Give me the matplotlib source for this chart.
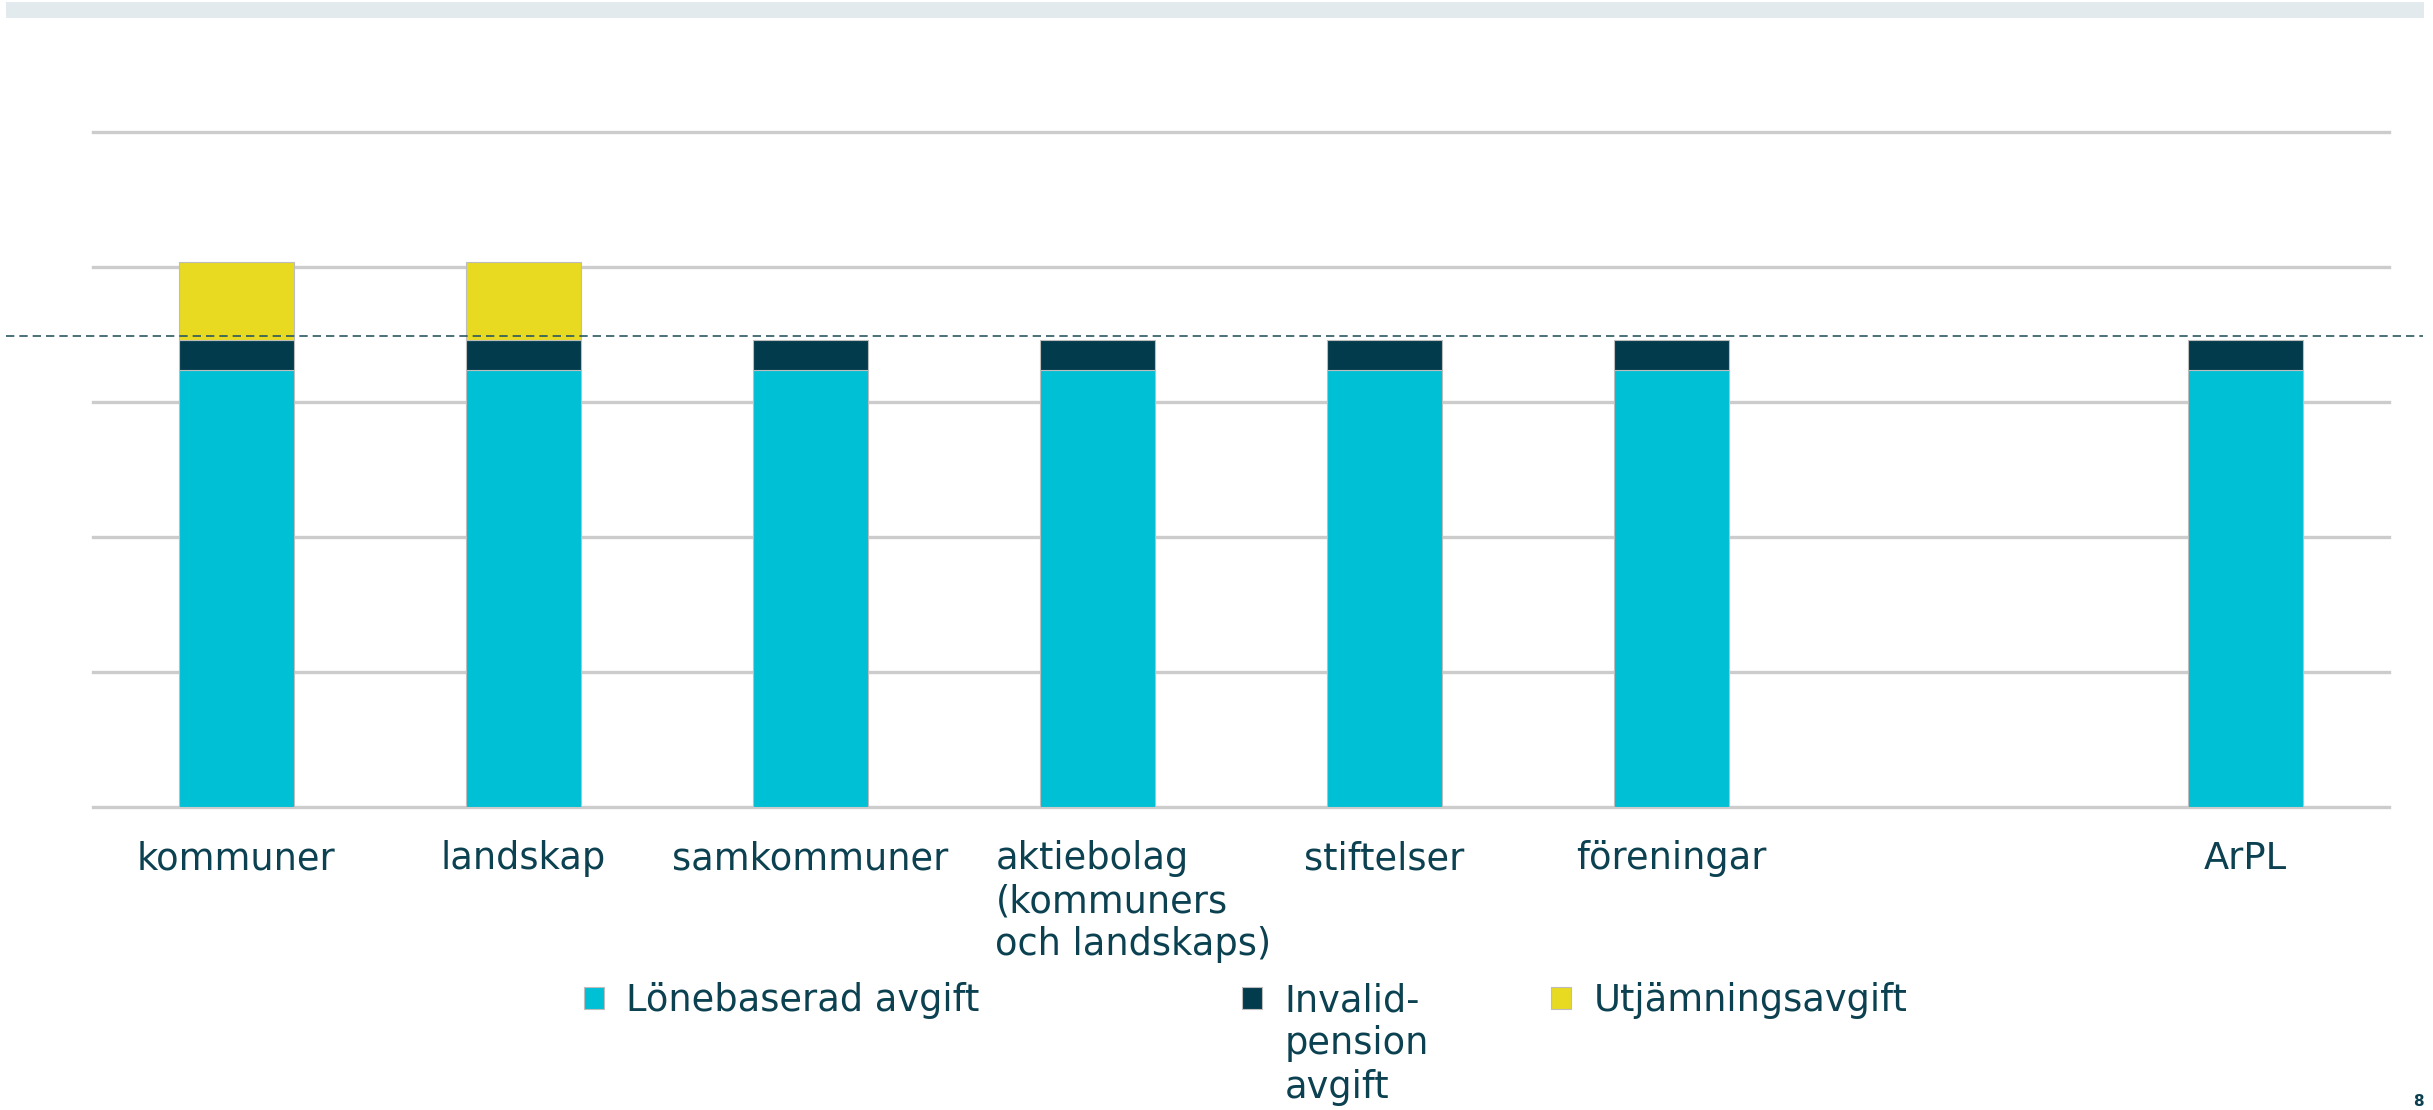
import numpy as np
import matplotlib
matplotlib.use("Agg")
import matplotlib.pyplot as plt
from matplotlib.patches import Rectangle
from matplotlib.transforms import ScaledTranslation

# data (percent of payroll)
categories = ["kommuner", "landskap", "samkommuner",
              "aktiebolag\n(kommuners\noch landskaps)",
              "stiftelser", "föreningar", "", "ArPL"]
lonebaserad = [16.2, 16.2, 16.2, 16.2, 16.2, 16.2, 0, 16.2]
invalid = [1.1, 1.1, 1.1, 1.1, 1.1, 1.1, 0, 1.1]
utjamning = [2.9, 2.9, 0, 0, 0, 0, 0, 0]
arpl_level = 17.45
series_names = ["Lönebaserad avgift", "Invalid-\npension\navgift", "Utjämningsavgift"]
series_colors = ["#00c0d6", "#023b4b", "#e8d921"]

text_col = "#0b4150"
plt.rcParams["font.family"] = ["DejaVu Sans"]

W, H = 2433, 1110
fig = plt.figure(figsize=(W / 100, H / 100), dpi=100)
ax = fig.add_axes([93 / W, (H - 807) / H, (2389 - 93) / W, (807 - 132) / H])

# top strip
fig.patches.append(Rectangle((6 / W, (H - 18) / H), (2424 - 6) / W, 16 / H,
                             transform=fig.transFigure, color="#e3eaed", lw=0))

x = np.arange(len(categories))
bottom = np.zeros(len(categories))
handles = []
for vals, col in zip([lonebaserad, invalid, utjamning], series_colors):
    vals = np.array(vals, dtype=float)
    m = vals > 0
    b = ax.bar(x[m], vals[m], bottom=bottom[m], width=0.4, color=col,
               edgecolor="#bdbdbd", linewidth=0.8, zorder=3)
    handles.append(b)
    bottom += vals

ax.set_xlim(-0.5, 7.5)
ax.set_ylim(0, 25)
ax.set_yticks(np.arange(0, 26, 5))
ax.yaxis.grid(True, color="#cccccc", linewidth=2.4, zorder=0)
for gl in ax.get_ygridlines():
    gl.set_clip_on(False)
ax.set_axisbelow(True)
ax.tick_params(axis="y", left=False, labelleft=False)
for s in ax.spines.values():
    s.set_visible(False)

ax.set_xticks(x)
ax.set_xticklabels(categories, fontsize=26.5, color=text_col,
                   multialignment="left", linespacing=1.2)
ax.tick_params(axis="x", length=0, pad=24)
# the long label sits a bit right of its bar
lbl = ax.get_xticklabels()[3]
lbl.set_transform(lbl.get_transform() + ScaledTranslation(0.36, 0, fig.dpi_scale_trans))

# dashed reference line across the whole slide
ax.axhline(arpl_level, xmin=-0.038, xmax=1.015, clip_on=False,
           color="#2a5763", linewidth=1.2, linestyle=(0, (5, 3)), zorder=4)

# legend, one entry per block; wrapped label continues below its first line
legend_x = [584, 1242, 1551]
fs = 26.5
for h, name, lx in zip(handles, series_names, legend_x):
    first, *rest = name.split("\n")
    fig.legend([h], [first], loc="upper left",
               bbox_to_anchor=(lx / W, (H - 982) / H),
               frameon=False, fontsize=fs, labelcolor=text_col,
               handlelength=0.55, handleheight=0.55, handletextpad=0.6,
               borderpad=0, borderaxespad=0)
    if rest:
        fig.text((lx + 1.15 * fs * 100 / 72) / W, (H - 1025) / H, "\n".join(rest),
                 fontsize=fs, color=text_col, va="top", ha="left", linespacing=1.25)

fig.text(2418 / W, (H - 1101) / H, "8", fontsize=11, fontweight="bold",
         color=text_col, ha="center", va="center")

fig.savefig("out.png", dpi=100)
